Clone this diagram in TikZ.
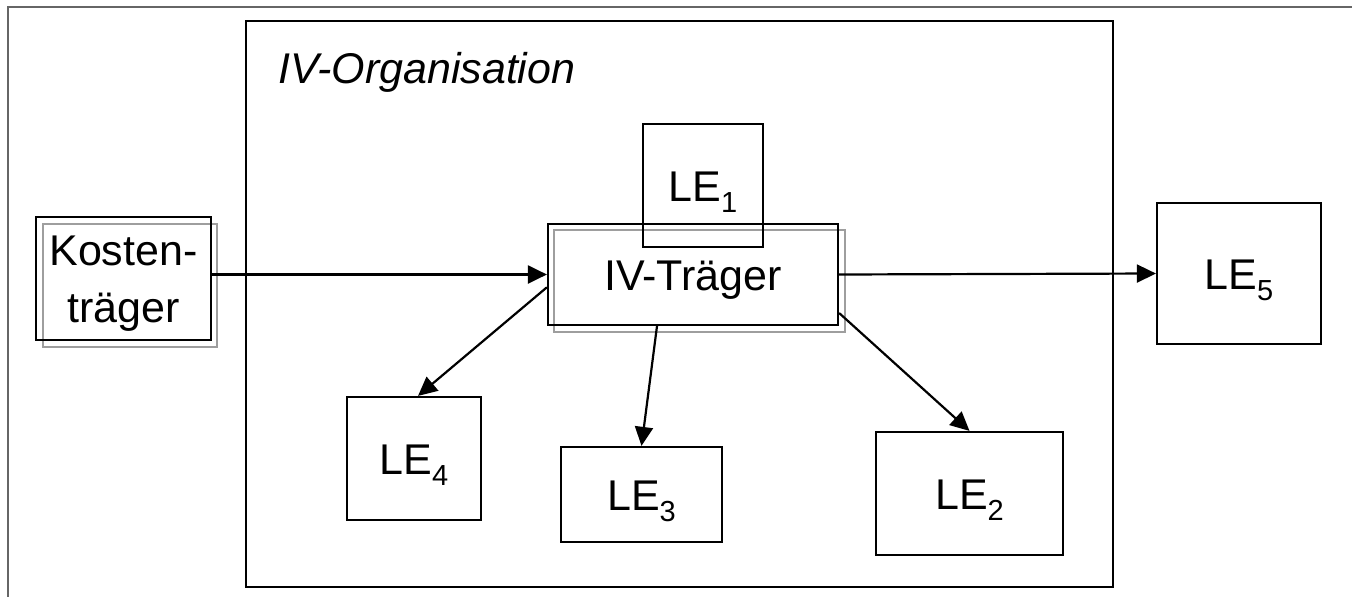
\documentclass[tikz,border=0pt]{standalone}
\usepackage{fontspec}
\setmainfont{Liberation Sans}
\usetikzlibrary{arrows.meta}
\newcommand\lesub[1]{LE\raisebox{-0.26em}{\fontsize{29}{29}\selectfont #1}}
\begin{document}
\begin{tikzpicture}[x=1pt,y=-1pt,
  txt/.style={font=\fontsize{43}{57}\selectfont, inner sep=0pt},
  box/.style={draw=black, line width=2.2pt, inner sep=0pt, text height=31pt, text depth=0pt,
    font=\fontsize{43}{57}\selectfont},
  shadowbox/.style={draw=black!38, line width=1.8pt, inner sep=0pt},
  conn/.style={line width=2.2pt, -{Triangle[length=19pt,width=18pt]}}]
\useasboundingbox (0,0) rectangle (1352,597);
% outer frame (cropped)
\draw[draw=black!60, line width=1.6pt] (8,597) -- (8,7) -- (1352,7);
% organisation frame
\node[draw, line width=2.2pt, minimum width=867pt, minimum height=566pt, inner sep=0pt] (org) at (679.5,304) {};
\node[txt, anchor=base west, font=\fontsize{43}{57}\selectfont\itshape] (orgt) at (278,83) {IV-Organisation};
% Kostentraeger
\node[shadowbox, minimum width=174pt, minimum height=123pt] (kts) at (130,285.5) {};
\node[box, minimum width=175pt, minimum height=123pt] (kt) at (123.5,278.5) {};
\node[txt, anchor=base] (ktt) at (123.5,265) {\begin{tabular}[t]{@{}c@{}}Kosten-\\träger\end{tabular}};
% IV-Traeger
\node[shadowbox, minimum width=291pt, minimum height=102pt] (ivs) at (699.5,281) {};
\node[box, minimum width=290pt, minimum height=101pt] (iv) at (693,274.5) {IV-Träger};
% LE boxes
\node[box, minimum width=120pt, minimum height=123pt] (le1) at (703,185.5) {\lesub{1}};
\node[box, minimum width=164pt, minimum height=141pt] (le5) at (1239,273.5) {\lesub{5}};
\node[box, minimum width=134pt, minimum height=123pt] (le4) at (414,458.5) {\lesub{4}};
\node[box, minimum width=161pt, minimum height=95pt] (le3) at (641.5,494.5) {\lesub{3}};
\node[box, minimum width=187pt, minimum height=123pt] (le2) at (969.5,493.5) {\lesub{2}};
% connectors
\draw[conn] (kt.east |- iv.west) -- (iv.west);
\draw[conn] (iv.east) -- (le5.west);
\draw[conn] (iv.185) -- ([xshift=4pt]le4.north);
\draw[conn] ([xshift=-36pt]iv.south) -- (le3.north);
\draw[conn] ([yshift=-38.5pt]iv.east) -- (le2.north);
\end{tikzpicture}
\end{document}
